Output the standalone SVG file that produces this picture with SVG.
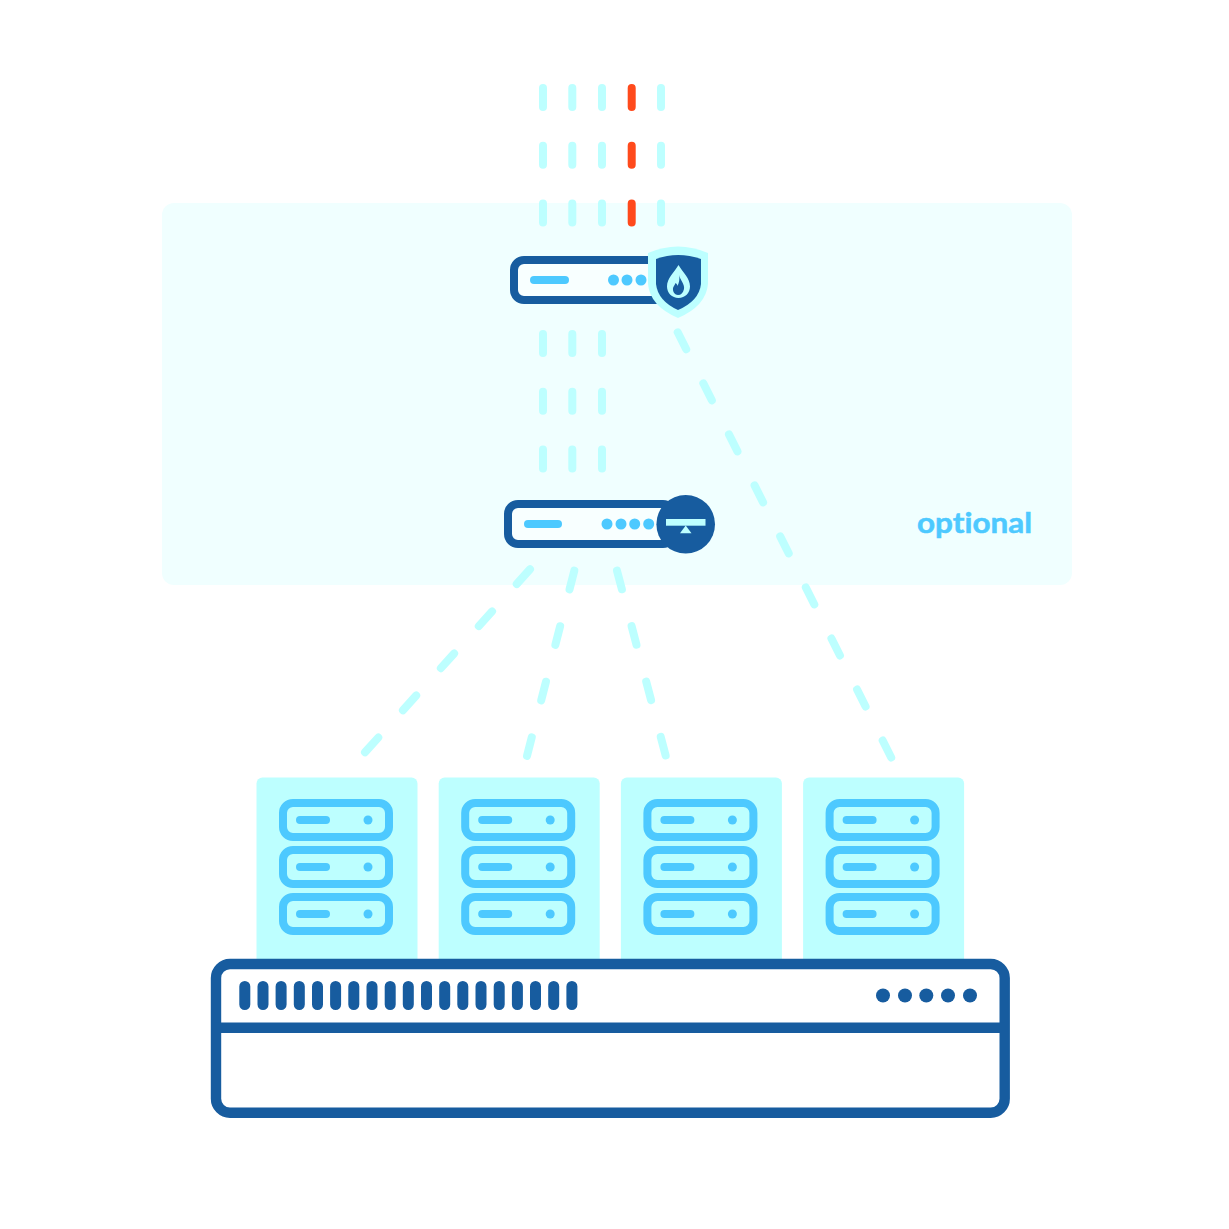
<svg xmlns="http://www.w3.org/2000/svg" xmlns:xlink="http://www.w3.org/1999/xlink" width="1229" height="1229" viewBox="0 0 1229 1229">
<style>
.dash{stroke:#bdffff;stroke-width:8;stroke-linecap:round;stroke-dasharray:19 38.700;fill:none}
.red{stroke:#ff4a1c}
.d1{stroke-dasharray:19.800 36.850}
.d2{stroke-dasharray:19.200 38.100}
.d3{stroke-dasharray:19 38.100}
.box{fill:#f8ffff;stroke:#175c9f;stroke-width:8}
.lt{fill:#4dc9ff}
.ltl{stroke:#4dc9ff;stroke-width:8;stroke-linecap:round;fill:none}
.su{fill:none;stroke:#4dc9ff;stroke-width:8}
.card{fill:#bdffff}
.dk{fill:#175c9f}
.slot{stroke:#175c9f;stroke-width:11;stroke-linecap:round;fill:none}
.label{font-family:Lato,"Open Sans",sans-serif;font-weight:700;font-size:28px;fill:#4dc9ff;stroke:#4dc9ff;stroke-width:.5;font-variant-ligatures:none}
</style>
<defs>
<g id="unit">
<rect class="su" x="283" y="803" width="106" height="34" rx="10"/>
<line class="ltl" x1="300" y1="820" x2="326" y2="820"/>
<circle class="lt" cx="368" cy="820" r="4.500"/>
</g>
<g id="server">
<rect class="card" x="256.500" y="777.500" width="161" height="190" rx="6"/>
<use href="#unit"/>
<use href="#unit" y="47"/>
<use href="#unit" y="94"/>
</g>
</defs>
<rect id="optional-zone" x="162" y="203" width="910" height="382" rx="12" fill="#f0ffff"/>
<g id="connectors">
<path class="dash" d="M543 88V226"/>
<path class="dash" d="M572.300 88V226"/>
<path class="dash" d="M602 88V226"/>
<path class="dash red" d="M631.700 88V226"/>
<path class="dash" d="M661 88V226"/>
<path class="dash" d="M543 334V472"/>
<path class="dash" d="M572.300 334V472"/>
<path class="dash" d="M602 334V472"/>
<path class="dash d3" d="M677.700 332.300L891.300 757.700"/>
<path class="dash d1" d="M530 569.300L365 752.300"/>
<path class="dash d2" d="M574.300 570.700L527 756"/>
<path class="dash d2" d="M617 570.700L665.700 755.700"/>
</g>
<g id="firewall">
<rect class="box" x="514" y="260" width="160" height="40" rx="10"/>
<line class="ltl" x1="534" y1="280" x2="565" y2="280"/>
<circle class="lt" cx="613.500" cy="280" r="5.500"/>
<circle class="lt" cx="627" cy="280" r="5.500"/>
<circle class="lt" cx="641" cy="280" r="5.500"/>
<path d="M648 253Q678 240 708 253V284Q706 306 678 318Q650 306 648 284Z" fill="#bdffff"/>
<path d="M656 259Q678 251 701 259V284Q699 301 678 310Q658 301 656 284Z" class="dk"/>
<path d="M678.500 265C683 273 690 278 690 286.500C690 293 685 298 678.500 298C672 298 667 293 667 286.500C667 278 674 273 678.500 265Z" fill="#bdffff"/>
<path d="M679 275C680 280 685 284 684 289C683 293 681 295 678 295C675 295 672.500 292 673 288C673.500 286 675 285 675.500 283C677 284 677.500 285 677.500 286C679 283 680 279 679 275Z" class="dk"/>
</g>
<g id="load-balancer">
<rect class="box" x="508" y="504" width="165" height="40" rx="10"/>
<line class="ltl" x1="528" y1="524" x2="558" y2="524"/>
<circle class="lt" cx="607" cy="524" r="5.500"/>
<circle class="lt" cx="621" cy="524" r="5.500"/>
<circle class="lt" cx="634.700" cy="524" r="5.500"/>
<circle class="lt" cx="648.700" cy="524" r="5.500"/>
<circle class="dk" cx="685.700" cy="524.300" r="29.300"/>
<rect x="666" y="519" width="39.500" height="6.700" fill="#bdffff"/>
<path d="M685.700 525.500L691.500 533.300H680Z" fill="#bdffff"/>
</g>
<text id="optional-label" class="label" x="917" y="533" textLength="115" lengthAdjust="spacingAndGlyphs">optional</text>
<g id="server-1"><use href="#server"/></g>
<g id="server-2"><use href="#server" x="182.200"/></g>
<g id="server-3"><use href="#server" x="364.400"/></g>
<g id="server-4"><use href="#server" x="546.600"/></g>
<g id="chassis">
<rect x="216" y="964" width="788.700" height="148.700" rx="14" fill="#fff" stroke="#175c9f" stroke-width="10.400"/>
<line x1="216" y1="1027.700" x2="1004.700" y2="1027.700" stroke="#175c9f" stroke-width="10.600"/>
<path class="slot" d="M244.800 986.500v18M263 986.500v18M281.100 986.500v18M299.300 986.500v18M317.500 986.500v18M335.600 986.500v18M353.800 986.500v18M372 986.500v18M390.200 986.500v18M408.300 986.500v18M426.500 986.500v18M444.700 986.500v18M462.800 986.500v18M481 986.500v18M499.200 986.500v18M517.400 986.500v18M535.500 986.500v18M553.700 986.500v18M571.900 986.500v18"/>
<circle class="dk" cx="883" cy="995.500" r="7"/>
<circle class="dk" cx="905" cy="995.500" r="7"/>
<circle class="dk" cx="926.300" cy="995.500" r="7"/>
<circle class="dk" cx="948" cy="995.500" r="7"/>
<circle class="dk" cx="970" cy="995.500" r="7"/>
</g>
</svg>
